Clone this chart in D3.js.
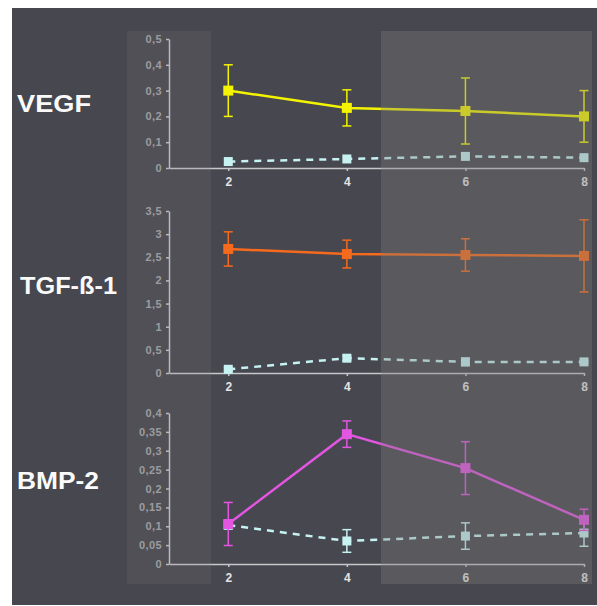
<!DOCTYPE html>
<html>
  <head>
    <meta charset="utf-8">
    <title>VEGF, TGF-ß-1, BMP-2</title>
    <script src="https://cdn.jsdelivr.net/npm/d3@7"></script>
    <style>
      body { margin: 0; background: #fff; }
      svg { display: block; }
      .yTick text { font: bold 11px "Liberation Sans", Arial, sans-serif; fill: #a4a4a8; letter-spacing: 0.4px; }
      .xTick text { font: bold 12px "Liberation Sans", Arial, sans-serif; fill: #e4e4e4; }
      .domain, .tick line { stroke: #c8c8cc; stroke-width: 1.5; }
      .panelLabel { font: bold 23px "Liberation Sans", Arial, sans-serif; fill: #fafafa; }
    </style>
  </head>
  <body>
    <svg id="chart" width="597" height="606"></svg>
    <script>
      // data
      weeks = [2, 4, 6, 8];
      xTicks = [2, 4, 6, 8];

      vegfMean = [0.30, 0.233, 0.221, 0.20];
      vegfErr = [0.10, 0.07, 0.128, 0.10];
      vegfCtrl = [0.025, 0.035, 0.045, 0.04];
      vegfCtrlErr = [0, 0, 0, 0];
      vegfTicks = [0, 0.1, 0.2, 0.3, 0.4, 0.5];

      tgfMean = [2.68, 2.57, 2.55, 2.53];
      tgfErr = [0.37, 0.30, 0.35, 0.78];
      tgfCtrl = [0.08, 0.32, 0.24, 0.24];
      tgfCtrlErr = [0.03, 0.05, 0.08, 0.03];
      tgfTicks = [0, 0.5, 1, 1.5, 2, 2.5, 3, 3.5];

      bmpMean = [0.106, 0.344, 0.254, 0.117];
      bmpErr = [0.057, 0.035, 0.07, 0.028];
      bmpCtrl = [0.103, 0.061, 0.074, 0.082];
      bmpCtrlErr = [0.01, 0.03, 0.035, 0.035];
      bmpTicks = [0, 0.05, 0.1, 0.15, 0.2, 0.25, 0.3, 0.35, 0.4];

      panels = [
        { name: "VEGF", width: 74, top: 39, bottom: 168, labelY: 112, colour: "#f4f400",
          mean: vegfMean, err: vegfErr, ctrl: vegfCtrl, ctrlErr: vegfCtrlErr, ticks: vegfTicks },
        { name: "TGF-ß-1", width: 97, top: 211, bottom: 373, labelY: 294, colour: "#f56a1c",
          mean: tgfMean, err: tgfErr, ctrl: tgfCtrl, ctrlErr: tgfCtrlErr, ticks: tgfTicks },
        { name: "BMP-2", width: 82, top: 413, bottom: 564, labelY: 489, colour: "#e256e2",
          mean: bmpMean, err: bmpErr, ctrl: bmpCtrl, ctrlErr: bmpCtrlErr, ticks: bmpTicks }
      ];
      ctrlColour = "#c6f2f2";

      svg = d3.select("#chart");
      svg.append("rect")
        .attr("x", 12).attr("y", 8)
        .attr("width", 585).attr("height", 597)
        .attr("fill", "#47474f");

      x = d3.scaleLinear().domain([1, 8]).range([169, 584]);
      comma = function(v) { return String(v).replace(".", ","); };

      panels.forEach(function(p) {
        y = d3.scaleLinear()
          .domain([0, d3.max(p.ticks)])
          .range([p.bottom, p.top]);
        g = svg.append("g");

        g.append("text")
          .attr("class", "panelLabel")
          .attr("x", p.name == "TGF-ß-1" ? 20 : 17)
          .attr("y", p.labelY)
          .attr("textLength", p.width)
          .attr("lengthAdjust", "spacingAndGlyphs")
          .text(p.name);

        g.append("g")
          .attr("class", "yTick")
          .attr("transform", "translate(169,0)")
          .call(d3.axisLeft(y).tickValues(p.ticks).tickFormat(comma)
            .tickSizeInner(3).tickSizeOuter(0).tickPadding(4));
        g.append("g")
          .attr("class", "xTick")
          .attr("transform", "translate(0," + p.bottom + ")")
          .call(d3.axisBottom(x).tickValues(xTicks).tickFormat(d3.format("d"))
            .tickSizeInner(3).tickSizeOuter(0).tickPadding(6));

        series = [
          { mean: p.ctrl, err: p.ctrlErr, colour: ctrlColour, dash: "7,6", size: 9 },
          { mean: p.mean, err: p.err, colour: p.colour, dash: null, size: 10 }
        ];
        series.forEach(function(s) {
          pts = weeks.map(function(w, i) { return { w: w, m: s.mean[i], e: s.err[i] }; });
          g.append("path")
            .datum(pts)
            .attr("fill", "none")
            .attr("stroke", s.colour)
            .attr("stroke-width", 2.5)
            .attr("stroke-dasharray", s.dash)
            .attr("d", d3.line().x(function(d) { return x(d.w); }).y(function(d) { return y(d.m); }));
          bars = g.selectAll(null).data(pts.filter(function(d) { return d.e > 0; }))
            .enter().append("g")
            .attr("stroke", s.colour).attr("stroke-width", 1.5);
          bars.append("line")
            .attr("x1", function(d) { return x(d.w); }).attr("x2", function(d) { return x(d.w); })
            .attr("y1", function(d) { return y(d.m - d.e); }).attr("y2", function(d) { return y(d.m + d.e); });
          [-1, 1].forEach(function(sign) {
            bars.append("line")
              .attr("x1", function(d) { return x(d.w) - 4.5; }).attr("x2", function(d) { return x(d.w) + 4.5; })
              .attr("y1", function(d) { return y(d.m + sign * d.e); }).attr("y2", function(d) { return y(d.m + sign * d.e); });
          });
          g.selectAll(null).data(pts).enter().append("rect")
            .attr("x", function(d) { return x(d.w) - s.size / 2; })
            .attr("y", function(d) { return y(d.m) - s.size / 2; })
            .attr("width", s.size).attr("height", s.size)
            .attr("fill", s.colour);
        });
      });

      // translucent grey bands laid over the chart
      svg.append("rect")
        .attr("x", 127).attr("y", 31).attr("width", 84).attr("height", 553)
        .attr("fill", "#7a7a7a").attr("opacity", 0.18);
      svg.append("rect")
        .attr("x", 381).attr("y", 31).attr("width", 211).attr("height", 553)
        .attr("fill", "#7a7a7a").attr("opacity", 0.35);
    </script>
  </body>
</html>
